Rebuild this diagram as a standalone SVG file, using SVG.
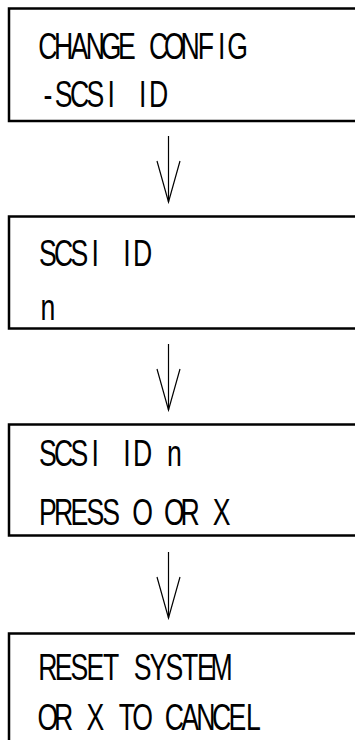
<svg xmlns="http://www.w3.org/2000/svg" width="355" height="740" viewBox="0 0 355 740">
  <style>
    .box { fill: #ffffff; stroke: #000000; stroke-width: 2.5; }
    .lcd { font-family: "Liberation Sans", Arial, sans-serif; font-size: 37px; fill: #000000; text-anchor: middle; }
    .conn { stroke: #000000; stroke-width: 1.2; fill: none; }
  </style>
  <defs>
    <marker id="vhead" markerUnits="userSpaceOnUse" viewBox="0 -12 42 24" refX="41" refY="0" markerWidth="42" markerHeight="24" orient="auto" overflow="visible">
      <path d="M0,-11.5 L41,0 L0,11.5" fill="none" stroke="#000000" stroke-width="1.2"/>
    </marker>
  </defs>
  <rect x="0" y="0" width="355" height="740" fill="#ffffff"/>

  <g id="node1">
    <rect class="box" x="9" y="8.5" width="370" height="112.5"/>
    <g transform="scale(0.72,1)">
      <text class="lcd" y="59" x="66.53 88.47 110.42 132.36 154.31 176.25 198.19 220.14 242.08 264.03 285.97 307.92 329.86">CHANGE CONFIG</text>
      <text class="lcd" y="107" x="66.53 88.47 110.42 132.36 154.31 176.25 198.19 220.14">-SCSI ID</text>
    </g>
  </g>

  <g id="node2">
    <rect class="box" x="9" y="216.5" width="370" height="112"/>
    <g transform="scale(0.72,1)">
      <text class="lcd" y="266" x="66.53 88.47 110.42 132.36 154.31 176.25 198.19">SCSI ID</text>
      <text class="lcd" y="320" x="66.53">n</text>
    </g>
  </g>

  <g id="node3">
    <rect class="box" x="9" y="424.5" width="370" height="111"/>
    <g transform="scale(0.72,1)">
      <text class="lcd" y="466" x="66.53 88.47 110.42 132.36 154.31 176.25 198.19 220.14 242.08">SCSI ID n</text>
      <text class="lcd" y="525" x="66.53 88.47 110.42 132.36 154.31 176.25 198.19 220.14 242.08 264.03 285.97 307.92">PRESS O OR X</text>
    </g>
  </g>

  <g id="node4">
    <rect class="box" x="9" y="633.5" width="370" height="130"/>
    <g transform="scale(0.72,1)">
      <text class="lcd" y="680" x="66.53 88.47 110.42 132.36 154.31 176.25 198.19 220.14 242.08 264.03 285.97 307.92">RESET SYSTEM</text>
      <text class="lcd" y="730" x="66.53 88.47 110.42 132.36 154.31 176.25 198.19 220.14 242.08 264.03 285.97 307.92 329.86 351.81">OR X TO CANCEL</text>
    </g>
  </g>

  <g id="connectors">
    <line class="conn" x1="168.5" y1="136" x2="168.5" y2="202" marker-end="url(#vhead)"/>
    <line class="conn" x1="168.5" y1="344" x2="168.5" y2="410" marker-end="url(#vhead)"/>
    <line class="conn" x1="168.5" y1="552" x2="168.5" y2="618" marker-end="url(#vhead)"/>
  </g>
</svg>
